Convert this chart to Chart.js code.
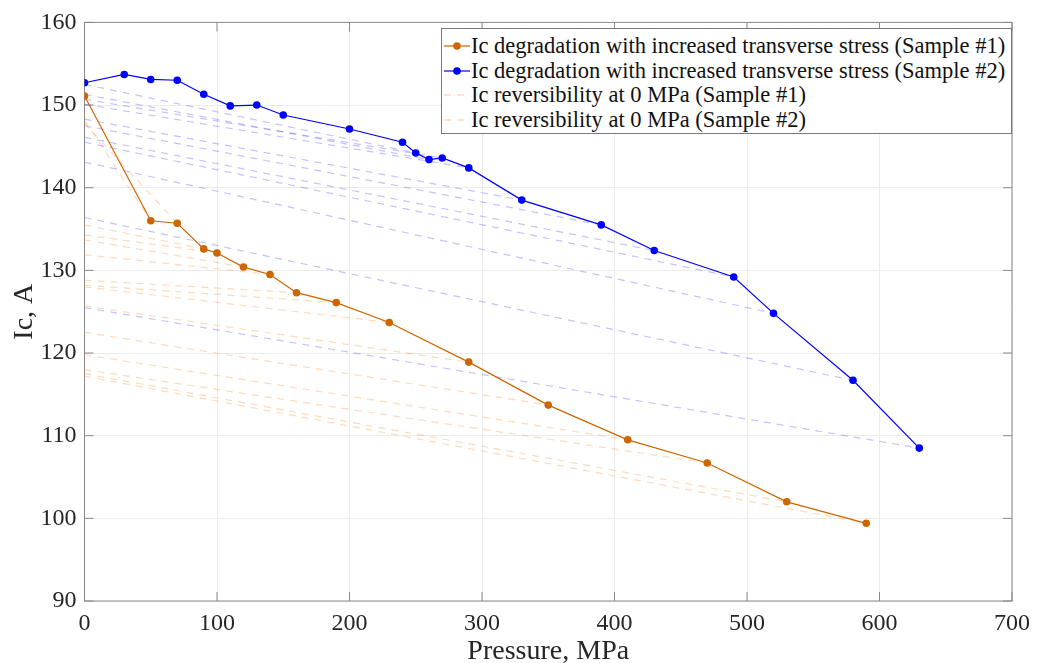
<!DOCTYPE html>
<html>
<head>
<meta charset="utf-8">
<script src="https://cdn.jsdelivr.net/npm/chart.js@4.4.1/dist/chart.umd.min.js"></script>
<style>
  body { margin: 0; background: #fff; overflow: hidden; }
  #wrap { position: relative; width: 1038px; height: 663px; overflow: hidden; }
  #legend {
    position: absolute; left: 441px; top: 28px; width: 571px; height: 106px;
    border: 1px solid #7a7a7a; background: #fff; box-sizing: border-box;
    font-family: "Liberation Serif", "Times New Roman", serif; font-size: 22.5px; color: #111;
  }
  .row { position: absolute; left: 0; height: 24px; line-height: 24px; white-space: nowrap; }
  .row svg { position: absolute; left: 2px; top: 7px; }
  .row span { position: absolute; left: 29px; top: 0; }
</style>
</head>
<body>
<div id="wrap">
  <canvas id="icChart" width="1038" height="680"></canvas>
  <div id="legend"></div>
</div>
<script>
// Sample #1 degradation
let s1Pressure = [0, 50, 70, 90, 100, 120, 140, 160, 190, 230, 290, 350, 410, 470, 530, 590];
let s1Ic = [151.1, 136.0, 135.7, 132.6, 132.1, 130.4, 129.5, 127.3, 126.1, 123.7, 118.9, 113.7, 109.5, 106.7, 102.0, 99.4];

// Sample #2 degradation
let s2Pressure = [0, 30, 50, 70, 90, 110, 130, 150, 200, 240, 250, 260, 270, 290, 330, 390, 430, 490, 520, 580, 630];
let s2Ic = [152.7, 153.7, 153.1, 153.0, 151.3, 149.9, 150.0, 148.8, 147.1, 145.5, 144.2, 143.4, 143.6, 142.4, 138.5, 135.5, 132.4, 129.2, 124.8, 116.7, 108.5];

// Ic measured back at 0 MPa after each load step
let s1RevPressure = [50, 70, 90, 100, 120, 140, 160, 190, 230, 290, 350, 410, 470, 530, 590];
let s1RevIc = [148.2, 147.8, 135.5, 134.3, 133.7, 131.9, 128.8, 128.2, 128.0, 125.7, 122.5, 119.8, 118.0, 117.5, 117.2];

let s2RevPressure = [250, 260, 270, 290, 330, 390, 430, 490, 520, 580, 630];
let s2RevIc = [152.5, 151.3, 150.7, 150.1, 148.3, 147.5, 146.1, 145.5, 143.1, 136.4, 125.5];

let xTicks = [0, 100, 200, 300, 400, 500, 600, 700];
let yTicks = [90, 100, 110, 120, 130, 140, 150, 160];

const orange = '#CC6600';
const blue = '#0000FF';
const orangeDash = 'rgba(255, 140, 40, 0.32)';
const blueDash = 'rgba(0, 0, 255, 0.24)';
const serif = '"Liberation Serif", "Times New Roman", serif';

Chart.defaults.font.family = serif;

function toPoints(xs, ys) {
    return xs.map((x, i) => ({ x: x, y: ys[i] }));
}

function revLines(revP, revIc, pressure, ic, color) {
    return revP.map((p, i) => ({
        data: [{ x: 0, y: revIc[i] }, { x: p, y: ic[pressure.indexOf(p)] }],
        borderColor: color,
        borderWidth: 1.2,
        borderDash: [7, 6],
        pointRadius: 0,
        fill: false,
        order: 2
    }));
}

let datasets = [
    {
        label: 'Ic degradation with increased transverse stress (Sample #1)',
        data: toPoints(s1Pressure, s1Ic),
        borderColor: orange, backgroundColor: orange,
        borderWidth: 1.2, pointRadius: 3.8, pointBorderWidth: 0,
        order: 0
    },
    {
        label: 'Ic degradation with increased transverse stress (Sample #2)',
        data: toPoints(s2Pressure, s2Ic),
        borderColor: blue, backgroundColor: blue,
        borderWidth: 1.2, pointRadius: 3.8, pointBorderWidth: 0,
        order: 0
    },
    ...revLines(s1RevPressure, s1RevIc, s1Pressure, s1Ic, orangeDash),
    ...revLines(s2RevPressure, s2RevIc, s2Pressure, s2Ic, blueDash)
];

// axes box with inward ticks, like the original figure
const boxPlugin = {
    id: 'box',
    beforeDatasetsDraw(chart) {
        let { ctx, chartArea: a, scales } = chart;
        ctx.save();
        ctx.strokeStyle = '#8a8a8a';
        ctx.lineWidth = 1;
        ctx.strokeRect(a.left, a.top, a.right - a.left, a.bottom - a.top);
        ctx.beginPath();
        xTicks.forEach(v => {
            let px = scales.x.getPixelForValue(v);
            ctx.moveTo(px, a.bottom); ctx.lineTo(px, a.bottom - 9);
            ctx.moveTo(px, a.top); ctx.lineTo(px, a.top + 9);
        });
        yTicks.forEach(v => {
            let py = scales.y.getPixelForValue(v);
            ctx.moveTo(a.left, py); ctx.lineTo(a.left + 9, py);
            ctx.moveTo(a.right, py); ctx.lineTo(a.right - 9, py);
        });
        ctx.stroke();
        ctx.restore();
    }
};

new Chart(document.getElementById('icChart'), {
    type: 'line',
    data: { datasets: datasets },
    options: {
        responsive: false,
        animation: false,
        layout: { padding: { left: 0, top: 20, right: 20.5, bottom: 0 } },
        plugins: { legend: { display: false }, tooltip: { enabled: false } },
        scales: {
            x: {
                type: 'linear', min: 0, max: 700,
                afterBuildTicks: s => { s.ticks = xTicks.map(v => ({ value: v })); },
                afterFit: s => { s.height = 79; },
                grid: { color: '#ebebeb', drawTicks: false, tickLength: 0 },
                border: { display: false },
                ticks: { padding: 8, color: '#262626', font: { family: serif, size: 24 } },
                title: { display: true, text: 'Pressure, MPa', color: '#262626',
                         font: { family: serif, size: 28 }, padding: { top: 0, bottom: 12 } }
            },
            y: {
                type: 'linear', min: 90, max: 160,
                afterBuildTicks: s => { s.ticks = yTicks.map(v => ({ value: v })); },
                afterFit: s => { s.width = 84.5; },
                grid: { color: '#ebebeb', drawTicks: false, tickLength: 0 },
                border: { display: false },
                ticks: { padding: 8, color: '#262626', font: { family: serif, size: 24 } },
                title: { display: true, text: 'Ic, A', color: '#262626',
                         font: { family: serif, size: 28 }, padding: { top: 8, bottom: 0 } }
            }
        }
    },
    plugins: [boxPlugin]
});

// legend drawn as html on top of the plot area
let legendItems = [
    { text: datasets[0].label, color: orange, dash: false },
    { text: datasets[1].label, color: blue, dash: false },
    { text: 'Ic reversibility at 0 MPa (Sample #1)', color: orangeDash, dash: true },
    { text: 'Ic reversibility at 0 MPa (Sample #2)', color: orangeDash, dash: true }
];
let legend = document.getElementById('legend');
legendItems.forEach((item, i) => {
    let row = document.createElement('div');
    row.className = 'row';
    row.style.top = (5 + i * 24.7) + 'px';
    let mark = item.dash
        ? `<line x1="0" y1="5" x2="26" y2="5" stroke="${item.color}" stroke-width="1.3" stroke-dasharray="7,6"/>`
        : `<line x1="0" y1="5" x2="26" y2="5" stroke="${item.color}" stroke-width="1.2"/><circle cx="13" cy="5" r="3.8" fill="${item.color}"/>`;
    row.innerHTML = `<svg width="27" height="10">${mark}</svg><span>${item.text}</span>`;
    legend.appendChild(row);
});
</script>
</body>
</html>
